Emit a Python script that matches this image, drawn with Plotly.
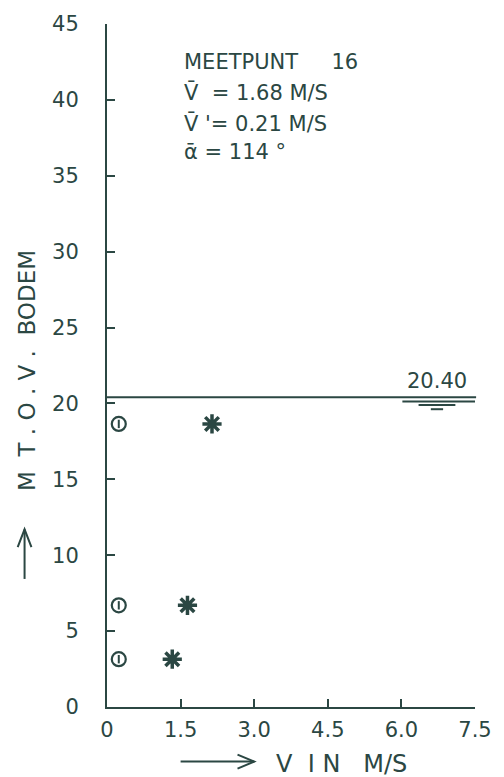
import plotly.graph_objects as go

# ---- data ----
depth = [18.65, 6.70, 3.15]            # m boven bodem
speed = [2.14, 1.64, 1.33]             # V in m/s (stars)
direction_marker_x = [0.24, 0.24, 0.24]  # circle markers near axis
water_level = 20.40
x_ticks = [0, 1.5, 3.0, 4.5, 6.0, 7.5]
x_ticktext = ["0", "1.5", "3.0", "4.5", "6.0", "7.5"]
y_ticks = [0, 5, 10, 15, 20, 25, 30, 35, 40, 45]
info_lines = ["MEETPUNT     16", "V\u0304  = 1.68 M/S", "V\u0304 '= 0.21 M/S", "\u1fb1 = 114 \u00b0"]

INK = "#2b4743"
FONT = "DejaVu Sans"

fig = go.Figure()

fig.add_trace(go.Scatter(
    x=direction_marker_x, y=depth, mode="markers",
    marker=dict(symbol="circle-open", size=14, color=INK, line=dict(width=2.2, color=INK)),
    showlegend=False, hoverinfo="skip"))
fig.add_trace(go.Scatter(
    x=direction_marker_x, y=depth, mode="markers",
    marker=dict(symbol="line-ns-open", size=6, color=INK, line=dict(width=2, color=INK)),
    showlegend=False, hoverinfo="skip"))
fig.add_trace(go.Scatter(
    x=speed, y=depth, mode="markers",
    marker=dict(symbol="asterisk-open", size=16, color=INK, line=dict(width=3.5, color=INK)),
    showlegend=False, hoverinfo="skip"))

W, H = 504, 777
L, R, T, B = 107, 22, 19, 70
pw, ph = W - L - R, H - T - B

def px(xp):
    return (xp - L) / pw

def py(yp):
    return (H - B - yp) / ph

shapes = []
# water level line
shapes.append(dict(type="line", xref="paper", yref="y", x0=0, x1=1.003, y0=water_level, y1=water_level,
                   line=dict(color=INK, width=2)))
# water level symbol (decorative)
for (xa, xb, dy, w) in [(6.02, 7.52, -0.28, 2), (6.35, 7.1, -0.5, 2), (6.6, 6.85, -0.78, 2)]:
    shapes.append(dict(type="line", xref="x", yref="y", x0=xa, x1=xb, y0=water_level + dy, y1=water_level + dy,
                       line=dict(color=INK, width=w)))

# y-title arrow (pointing up)
shapes.append(dict(type="path", xref="paper", yref="paper",
                   path=f"M {px(23)} {py(578)} L {px(23)} {py(528)}", line=dict(color=INK, width=2)))
shapes.append(dict(type="path", xref="paper", yref="paper",
                   path=f"M {px(16)} {py(546)} L {px(23)} {py(528)} L {px(30)} {py(546)}",
                   line=dict(color=INK, width=2)))
# x-title arrow (pointing right)
shapes.append(dict(type="path", xref="paper", yref="paper",
                   path=f"M {px(182)} {py(762)} L {px(257)} {py(762)}", line=dict(color=INK, width=2)))
shapes.append(dict(type="path", xref="paper", yref="paper",
                   path=f"M {px(240)} {py(755)} L {px(257)} {py(762)} L {px(240)} {py(769)}",
                   line=dict(color=INK, width=2)))

annotations = []
for i, (txt, yp) in enumerate(zip(info_lines, [57, 88, 119, 148])):
    annotations.append(dict(text=txt, xref="paper", yref="paper", x=px(183), y=py(yp),
                            xanchor="left", yanchor="middle", showarrow=False,
                            font=dict(family=FONT, size=21, color=INK)))
annotations.append(dict(text=f"{water_level:.2f}", xref="x", yref="y", x=6.72, y=water_level,
                        xanchor="center", yanchor="bottom", yshift=2, showarrow=False,
                        font=dict(family=FONT, size=21, color=INK)))
annotations.append(dict(text="M  T . O . V .  BODEM", xref="paper", yref="paper", x=px(26), y=py(368),
                        xanchor="center", yanchor="middle", textangle=-90, showarrow=False,
                        font=dict(family=FONT, size=23, color=INK)))
annotations.append(dict(text="V  I N   M/S", xref="paper", yref="paper", x=px(277), y=py(764),
                        xanchor="left", yanchor="middle", showarrow=False,
                        font=dict(family=FONT, size=24, color=INK)))

fig.update_layout(
    width=W, height=H, margin=dict(l=L, r=R, t=T, b=B),
    paper_bgcolor="white", plot_bgcolor="white",
    shapes=shapes, annotations=annotations,
    font=dict(family=FONT, size=21, color=INK),
    xaxis=dict(range=[0, 7.5], tickvals=x_ticks, ticktext=x_ticktext, showgrid=False, zeroline=False,
               showline=True, linecolor=INK, linewidth=2, ticks="inside", ticklen=8, tickwidth=2,
               tickcolor=INK, ticklabelstandoff=3, tickfont=dict(family=FONT, size=21, color=INK)),
    yaxis=dict(range=[0, 45], tickvals=y_ticks, showgrid=False, zeroline=False,
               showline=True, linecolor=INK, linewidth=2, ticks="inside", ticklen=8, tickwidth=2,
               tickcolor=INK, ticklabelstandoff=22, tickfont=dict(family=FONT, size=21, color=INK)),
)

fig.write_html("out.html")
